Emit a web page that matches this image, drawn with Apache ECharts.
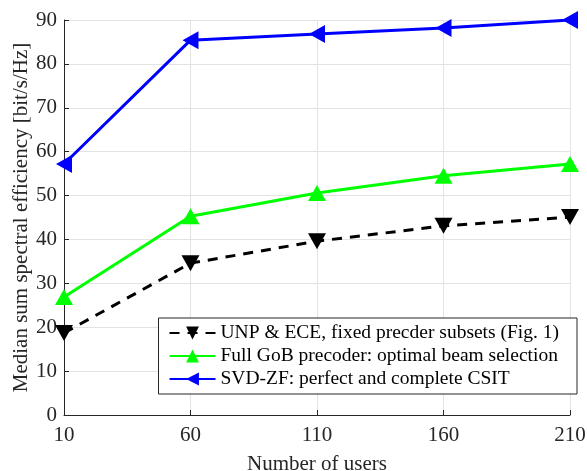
<!DOCTYPE html>
<html><head><meta charset="utf-8">
<script src="https://cdn.jsdelivr.net/npm/echarts@6/dist/echarts.min.js"></script>
<style>html,body{margin:0;padding:0;background:#fff}#c{width:587px;height:471px}</style>
</head><body><div id="c"></div>
<script>
const users = [10, 60, 110, 160, 210];
const unpEce = [18.7, 34.6, 39.6, 43.1, 45.1];
const fullGoB = [26.9, 45.3, 50.6, 54.5, 57.2];
const svdZf = [57.2, 85.4, 86.8, 88.2, 90.0];
const names = ['UNP & ECE, fixed precder subsets (Fig. 1)', 'Full GoB precoder: optimal beam selection', 'SVD-ZF: perfect and complete CSIT'];
const font = 'Liberation Serif';
const chart = echarts.init(document.getElementById('c'));
function pts(v){ return users.map((u,i)=>[u,v[i]]); }
chart.setOption({
  animation:false,
  textStyle:{fontFamily:font},
  grid:{left:64,right:17,top:20,bottom:56,containLabel:false,outerBoundsMode:'none'},
  xAxis:{type:'value',min:10,max:210,interval:50,
    name:'Number of users',nameLocation:'middle',nameGap:39,nameMoveOverlap:false,
    nameTextStyle:{fontFamily:font,fontSize:21,color:'#262626'},
    axisLine:{lineStyle:{color:'#262626'}},axisTick:{show:true,inside:true,length:5,lineStyle:{color:'#262626'}},
    axisLabel:{fontFamily:font,fontSize:21,color:'#262626',margin:10},
    splitLine:{show:true,lineStyle:{color:'#e3e3e3'}}},
  yAxis:{type:'value',min:0,max:90,interval:10,
    name:'Median sum spectral efficiency [bit/s/Hz]',nameLocation:'middle',nameGap:32,nameMoveOverlap:false,
    nameTextStyle:{fontFamily:font,fontSize:21,color:'#262626'},
    axisLine:{show:true,lineStyle:{color:'#262626'}},axisTick:{show:true,inside:true,length:5,lineStyle:{color:'#262626'}},
    axisLabel:{fontFamily:font,fontSize:21,color:'#262626',margin:7},
    splitLine:{show:true,lineStyle:{color:'#e3e3e3'}}},
  legend:{show:true,orient:'vertical',right:10,top:318,
    backgroundColor:'#fff',borderColor:'#262626',borderWidth:1,padding:[5,18,5,10],
    itemWidth:46,itemHeight:16,itemGap:3,
    textStyle:{fontFamily:font,fontSize:19.5,color:'#000'},
    data:names},
  series:[
    {name:names[0],type:'line',data:pts(unpEce),symbol:'triangle',symbolRotate:180,symbolSize:[18,16],
     lineStyle:{color:'#000',width:3,type:[10,8]},itemStyle:{color:'#000'}},
    {name:names[1],type:'line',data:pts(fullGoB),symbol:'triangle',symbolSize:[18,16],
     lineStyle:{color:'#00ff00',width:3},itemStyle:{color:'#00ff00'}},
    {name:names[2],type:'line',data:pts(svdZf),symbol:'triangle',symbolRotate:90,symbolSize:[18,16],
     lineStyle:{color:'#0000ff',width:3},itemStyle:{color:'#0000ff'}}
  ]
});
</script></body></html>
